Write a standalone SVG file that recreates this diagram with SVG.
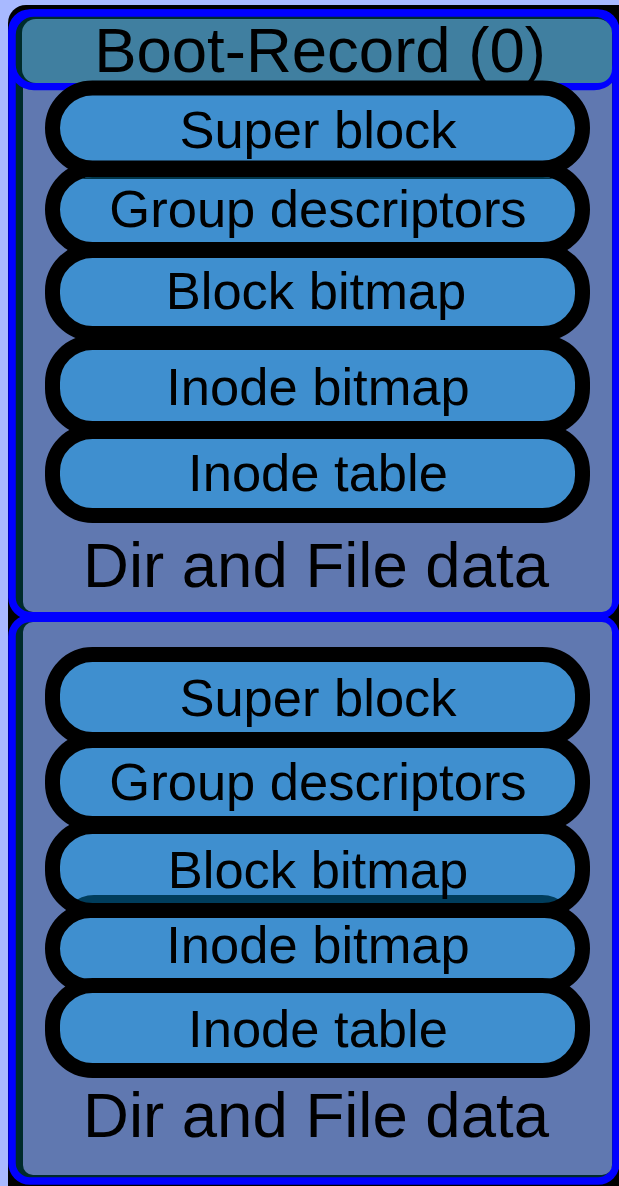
<svg xmlns="http://www.w3.org/2000/svg" width="619" height="1186" viewBox="0 0 619 1186">
  <style>
    .frame { fill: #002b2b; stroke: #0000ff; stroke-width: 7.5; }
    .body { fill: #6078b0; }
    .pill { fill: #3f8fcf; stroke: #000000; stroke-width: 15; }
    .pill-fill { fill: #3f8fcf; stroke: none; }
    .pill-line { fill: none; stroke: #000000; stroke-width: 15; }
    .lbl { font-family: "Liberation Sans", Arial, sans-serif; font-size: 52.5px; fill: #000000; text-anchor: middle; }
    .big { font-family: "Liberation Sans", Arial, sans-serif; font-size: 63.5px; fill: #000000; text-anchor: middle; }
  </style>
  <defs>
    <clipPath id="clip-bb2">
      <rect x="52.5" y="826.5" width="530" height="84" rx="40"/>
    </clipPath>
    <clipPath id="clip-gd0">
      <rect x="60" y="177" width="515" height="65" rx="32"/>
    </clipPath>
  </defs>

  <!-- page background and dark backing plate -->
  <rect x="0" y="0" width="619" height="1186" fill="#a8b9ff"/>
  <rect x="8" y="5" width="640" height="1200" rx="18" fill="#000000"/>

  <!-- block group 0 (with boot record) -->
  <g id="group-0">
    <rect class="frame" x="12" y="13" width="604" height="602.5" rx="18"/>
    <rect class="body" x="23" y="40" width="589" height="572" rx="10"/>
  </g>

  <g id="boot-record">
    <rect class="frame" x="12" y="13" width="604" height="73.5" rx="22" fill="#003838"/>
    <rect x="22" y="19" width="590" height="64" rx="14" fill="#407fa0"/>
    <text class="big" x="320" y="72" font-size="62.5">Boot-Record (0)</text>
  </g>

  <g id="g0-super-block">
    <rect class="pill" x="52.5" y="88" width="530" height="80" rx="40"/>
    <text class="lbl" x="318" y="148">Super block</text>
  </g>
  <g id="g0-group-descriptors">
    <rect class="pill" x="52.5" y="169.5" width="530" height="80" rx="40"/>
    <rect x="60" y="170" width="515" height="9" rx="4" fill="#00364a" clip-path="url(#clip-gd0)"/>
    <text class="lbl" x="318" y="227">Group descriptors</text>
  </g>
  <g id="g0-block-bitmap">
    <rect class="pill" x="52.5" y="250.5" width="530" height="83" rx="40"/>
    <text class="lbl" x="316" y="309">Block bitmap</text>
  </g>
  <g id="g0-inode-bitmap">
    <rect class="pill" x="52.5" y="342.5" width="530" height="86" rx="40"/>
    <text class="lbl" x="318" y="405">Inode bitmap</text>
  </g>
  <g id="g0-inode-table">
    <rect class="pill" x="52.5" y="431.5" width="530" height="84" rx="40"/>
    <text class="lbl" x="318" y="491">Inode table</text>
  </g>
  <g id="g0-data">
    <text class="big" x="316" y="587">Dir and File data</text>
  </g>

  <!-- block group 1 -->
  <g id="group-1">
    <rect class="frame" x="12" y="618.5" width="604" height="562.5" rx="18"/>
    <rect class="body" x="23" y="622" width="589" height="553" rx="10"/>
  </g>

  <g id="g1-super-block">
    <rect class="pill" x="52.5" y="654.5" width="530" height="85" rx="40"/>
    <text class="lbl" x="318" y="716">Super block</text>
  </g>
  <g id="g1-group-descriptors">
    <rect class="pill" x="52.5" y="740.5" width="530" height="83" rx="40"/>
    <text class="lbl" x="318" y="800">Group descriptors</text>
  </g>
  <g id="g1-block-bitmap">
    <rect class="pill-fill" x="52.5" y="826.5" width="530" height="84" rx="40"/>
    <rect x="62" y="895" width="512" height="60" rx="32" fill="#003d5c" clip-path="url(#clip-bb2)"/>
    <rect class="pill-line" x="52.5" y="826.5" width="530" height="84" rx="40"/>
    <text class="lbl" x="318" y="888">Block bitmap</text>
  </g>
  <g id="g1-inode-bitmap">
    <rect class="pill" x="52.5" y="910.5" width="530" height="76" rx="38"/>
    <text class="lbl" x="318" y="963">Inode bitmap</text>
  </g>
  <g id="g1-inode-table">
    <rect class="pill" x="52.5" y="985.5" width="530" height="85" rx="40"/>
    <text class="lbl" x="318" y="1047">Inode table</text>
  </g>
  <g id="g1-data">
    <text class="big" x="316" y="1137">Dir and File data</text>
  </g>
</svg>
